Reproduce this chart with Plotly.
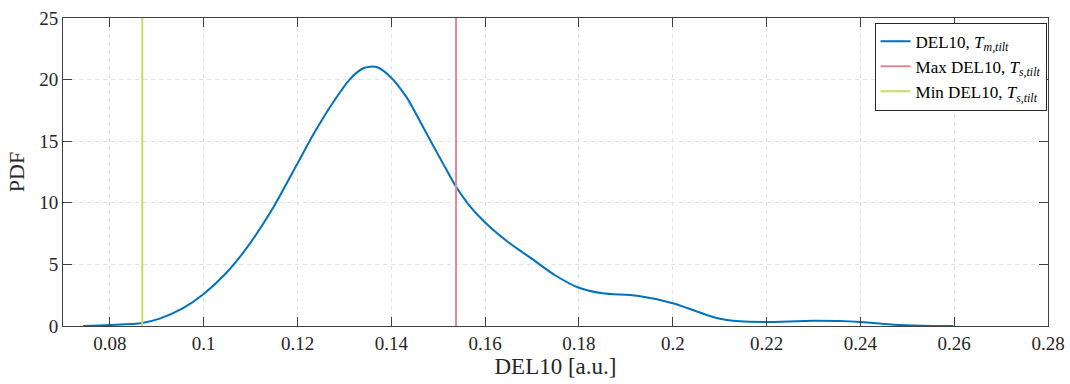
import plotly.graph_objects as go

# KDE curve
del10_x = [0.0743, 0.080, 0.0869, 0.0906, 0.0956, 0.100, 0.1048, 0.1091, 0.1148, 0.120,
           0.1233, 0.1275, 0.1311, 0.1339, 0.1355, 0.1370, 0.1396, 0.1432, 0.1474, 0.151,
           0.1538, 0.1566, 0.160, 0.1646, 0.170, 0.175, 0.180, 0.185, 0.1924, 0.200,
           0.205, 0.2093, 0.2143, 0.220, 0.2303, 0.240, 0.2472, 0.2530, 0.2598]
pdf_y = [0.0, 0.08, 0.25, 0.6, 1.45, 2.6, 4.3, 6.3, 9.6, 13.2,
         15.5, 18.1, 20.0, 20.9, 21.05, 21.0, 20.3, 18.6, 15.7, 13.2,
         11.3, 9.8, 8.4, 6.9, 5.45, 4.1, 3.1, 2.65, 2.45, 1.85,
         1.2, 0.65, 0.38, 0.33, 0.42, 0.33, 0.1, 0.02, 0.0]

max_del10 = 0.1538
min_del10 = 0.0869

x_ticks = [0.08, 0.10, 0.12, 0.14, 0.16, 0.18, 0.20, 0.22, 0.24, 0.26, 0.28]
x_tick_labels = ["0.08", "0.1", "0.12", "0.14", "0.16", "0.18", "0.2", "0.22", "0.24", "0.26", "0.28"]
y_ticks = [0, 5, 10, 15, 20, 25]

FONT = "Liberation Serif"

fig = go.Figure()
fig.add_trace(go.Scatter(
    x=del10_x, y=pdf_y, mode="lines", line=dict(color="#0072BD", width=2, shape="spline", smoothing=0.8),
    name="DEL10, <i>T</i><sub><i>m,tilt</i></sub>"))
fig.add_trace(go.Scatter(
    x=[max_del10, max_del10], y=[0, 25], mode="lines", line=dict(color="#E5879B", width=2),
    name="Max DEL10, <i>T</i><sub><i>s,tilt</i></sub>"))
fig.add_trace(go.Scatter(
    x=[min_del10, min_del10], y=[0, 25], mode="lines", line=dict(color="#C5DE5E", width=2),
    name="Min DEL10, <i>T</i><sub><i>s,tilt</i></sub>"))

axis_common = dict(
    showline=True, linecolor="#404040", linewidth=1, mirror="allticks",
    ticks="inside", ticklen=9, tickcolor="#404040", tickwidth=1,
    showgrid=True, gridcolor="#E2E2E2", griddash="4px,4px", gridwidth=1,
    zeroline=False, automargin=False,
    tickfont=dict(family=FONT, size=19, color="#262626"),
)

fig.update_layout(
    width=1070, height=384,
    margin=dict(l=63, r=22, t=18, b=58),
    plot_bgcolor="white", paper_bgcolor="white",
    font=dict(family=FONT, size=19, color="#262626"),
    xaxis=dict(range=[0.07, 0.28], tickvals=x_ticks, ticktext=x_tick_labels,
               title=dict(text="DEL10 [a.u.]", font=dict(family=FONT, size=23), standoff=4),
               **axis_common),
    yaxis=dict(range=[0, 25], tickvals=y_ticks,
               title=dict(text="PDF", font=dict(family=FONT, size=22), standoff=8),
               **axis_common),
    legend=dict(x=0.9985, y=0.985, xanchor="right", yanchor="top",
                bgcolor="white", bordercolor="#262626", borderwidth=1,
                font=dict(family=FONT, size=17, color="#000000"),
                tracegroupgap=0, itemwidth=30),
    showlegend=True,
)

fig.write_html("out.html")
